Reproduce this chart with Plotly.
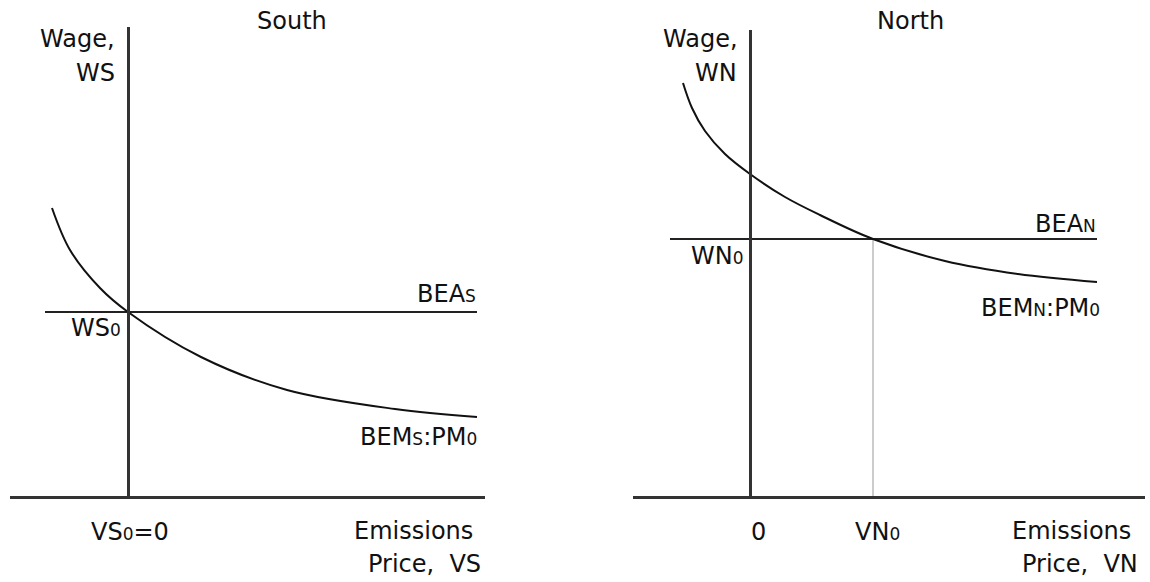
import plotly.graph_objects as go

# ---------------- data (South) ----------------
# emissions price VS (x) and wage WS (y)
south_curve_v = [-0.76, -0.58, -0.28, 0.0, 0.73, 1.59, 2.67, 3.49]
south_curve_w = [2.88, 2.46, 2.08, 1.84, 1.39, 1.06, 0.87, 0.79]
south_bea_v = [-0.83, 3.49]
south_bea_w = [1.84, 1.84]
south_x_range = [-1.18, 3.57]
south_y_range = [0.0, 4.69]

# ---------------- data (North) ----------------
north_curve_v = [-0.67, -0.58, -0.45, -0.25, 0.0, 0.35, 0.70, 1.23, 1.95, 2.68, 3.47]
north_curve_w = [4.13, 3.88, 3.65, 3.42, 3.22, 2.99, 2.81, 2.57, 2.35, 2.22, 2.14]
north_bea_v = [-0.80, 3.47]
north_bea_w = [2.57, 2.57]
north_vn0 = 1.23
north_wn0 = 2.57
north_x_range = [-1.17, 3.95]
north_y_range = [0.0, 4.66]

W, H = 1150, 582
FONT = "DejaVu Sans"
FS = 24
SM = 17
TXT = "#111111"
AX = "#333333"


def sc(t):
    return f"<span style='font-size:{SM}px'>{t}</span>"


fig = go.Figure()

# North guide line at VN0
fig.add_trace(go.Scatter(x=[north_vn0, north_vn0], y=[0, north_wn0], mode="lines",
                         line=dict(color="#bbbbbb", width=1.5), xaxis="x2", yaxis="y2",
                         hoverinfo="skip"))

# South
fig.add_trace(go.Scatter(x=south_bea_v, y=south_bea_w, mode="lines",
                         line=dict(color="#222222", width=2.2), xaxis="x", yaxis="y"))
fig.add_trace(go.Scatter(x=south_curve_v, y=south_curve_w, mode="lines",
                         line=dict(color="#111111", width=2, shape="spline", smoothing=1.0),
                         xaxis="x", yaxis="y"))
# North
fig.add_trace(go.Scatter(x=north_bea_v, y=north_bea_w, mode="lines",
                         line=dict(color="#222222", width=2.2), xaxis="x2", yaxis="y2"))
fig.add_trace(go.Scatter(x=north_curve_v, y=north_curve_w, mode="lines",
                         line=dict(color="#111111", width=2, shape="spline", smoothing=1.0),
                         xaxis="x2", yaxis="y2"))

axis_common = dict(showgrid=False, zeroline=False, showticklabels=False, ticks="",
                   showline=True, linecolor=AX, linewidth=2.5, fixedrange=True)

fig.update_layout(
    width=W, height=H,
    margin=dict(l=0, r=0, t=0, b=0),
    paper_bgcolor="white", plot_bgcolor="white",
    showlegend=False,
    font=dict(family=FONT, size=FS, color=TXT),
    xaxis=dict(domain=[10 / W, 485 / W], range=south_x_range, anchor="y", **axis_common),
    yaxis=dict(domain=[(H - 496) / H, (H - 27) / H], range=south_y_range,
               anchor="free", position=128 / W, **axis_common),
    xaxis2=dict(domain=[633 / W, 1145 / W], range=north_x_range, anchor="y2", **axis_common),
    yaxis2=dict(domain=[(H - 496) / H, (H - 30) / H], range=north_y_range,
                anchor="free", position=750 / W, **axis_common),
)


def ann(text, px, py, xanchor="center"):
    fig.add_annotation(text=text, x=px / W, y=1 - py / H, xref="paper", yref="paper",
                       xanchor=xanchor, yanchor="middle", showarrow=False,
                       font=dict(family=FONT, size=FS, color=TXT))


# South texts
ann("South", 292, 21)
ann("Wage,", 117, 39, "right")
ann("WS", 117, 73, "right")
ann("BEA" + sc("S"), 478, 294, "right")
ann("WS" + sc("0"), 123, 328, "right")
ann("BEM" + sc("S") + ":PM" + sc("0"), 479, 437, "right")
ann("VS" + sc("0") + "=0", 130, 532)
ann("Emissions", 475, 531, "right")
ann("Price,  VS", 483, 564, "right")

# North texts
ann("North", 910, 21)
ann("Wage,", 740, 39, "right")
ann("WN", 739, 73, "right")
ann("BEA" + sc("N"), 1098, 224, "right")
ann("WN" + sc("0"), 746, 256, "right")
ann("BEM" + sc("N") + ":PM" + sc("0"), 1102, 308, "right")
ann("0", 758, 532)
ann("VN" + sc("0"), 877, 532)
ann("Emissions", 1133, 531, "right")
ann("Price,  VN", 1140, 564, "right")

fig.write_html(
    "out.html",
    config={"displayModeBar": False, "staticPlot": True},
    post_script="document.body.style.margin='0';document.body.style.overflow='hidden';",
)
